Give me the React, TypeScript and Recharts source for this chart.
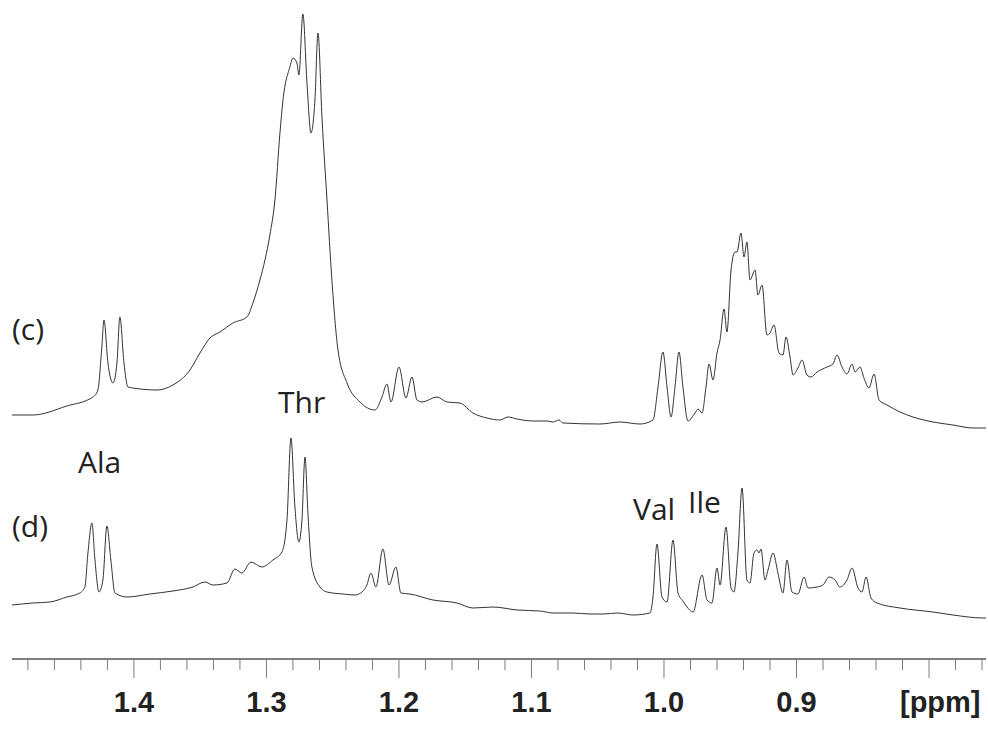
import { LineChart, Line, XAxis, YAxis } from "recharts";

// spectrum (c): chemical shift [ppm] and intensity (a.u.)
const ppmC = [
  1.492, 1.4762, 1.4506, 1.4309, 1.4272, 1.4242, 1.4226, 1.4196, 1.4158, 1.4128,
  1.4106, 1.4075, 1.4045, 1.4008, 1.3826, 1.3706, 1.3577, 1.3502, 1.3426, 1.3351,
  1.3253, 1.3147, 1.3102, 1.3049, 1.3011, 1.2974, 1.2936, 1.2898, 1.2875, 1.2823,
  1.28, 1.277, 1.2755, 1.2725, 1.2694, 1.2664, 1.2634, 1.2611, 1.2581, 1.2543,
  1.2506, 1.246, 1.2392, 1.2294, 1.2181, 1.2128, 1.2091, 1.206, 1.2, 1.1947,
  1.1902, 1.1864, 1.1826, 1.1713, 1.1638, 1.154, 1.1442, 1.1336, 1.1238, 1.1177,
  1.1109, 1.0989, 1.0883, 1.0838, 1.0792, 1.0762, 1.0483, 1.0332, 1.0181, 1.0083,
  1.0045, 1.0008, 0.9977, 0.9947, 0.9917, 0.9887, 0.9857, 0.9819, 0.9766, 0.9743,
  0.9713, 0.9683, 0.966, 0.963, 0.96, 0.9577, 0.9547, 0.9525, 0.9494, 0.9464,
  0.9449, 0.9419, 0.9396, 0.9374, 0.9351, 0.9313, 0.9291, 0.926, 0.9223, 0.92,
  0.917, 0.9132, 0.9102, 0.9079, 0.9049, 0.9026, 0.8989, 0.8958, 0.8921, 0.8891,
  0.8845, 0.877, 0.8725, 0.8694, 0.8657, 0.8619, 0.8581, 0.8558, 0.8521, 0.8491,
  0.8453, 0.8415, 0.8377, 0.8317, 0.8219, 0.8121, 0.797, 0.7819, 0.7668, 0.7592,
  0.757,
];
const intC = [
  244, 244, 253, 262, 269, 312, 339, 296, 276, 296,
  342, 296, 272, 271, 269, 274, 289, 306, 321, 327,
  336, 342, 356, 379, 399, 424, 459, 526, 559, 592,
  601, 596, 584, 645, 576, 526, 559, 626, 542, 459,
  379, 309, 276, 257, 249, 262, 275, 257, 292, 261,
  282, 259, 257, 262, 257, 256, 246, 241, 239, 242,
  240, 238, 238, 237, 239, 236, 235, 237, 235, 239,
  272, 307, 272, 242, 272, 307, 272, 238, 246, 250,
  246, 272, 295, 279, 306, 319, 350, 327, 389, 407,
  407, 426, 402, 417, 379, 389, 364, 374, 324, 326,
  334, 306, 304, 322, 302, 284, 291, 299, 284, 282,
  287, 292, 295, 304, 292, 285, 295, 287, 292, 281,
  271, 285, 259, 254, 247, 242, 237, 234, 231, 231,
  231,
];

// spectrum (d)
const ppmD = [
  1.492, 1.4762, 1.4634, 1.4506, 1.4408, 1.437, 1.4347, 1.4317, 1.4294, 1.4264,
  1.4234, 1.4204, 1.4174, 1.4143, 1.4053, 1.3879, 1.3706, 1.3555, 1.3464, 1.3404,
  1.3298, 1.3238, 1.3185, 1.3117, 1.3034, 1.2951, 1.2883, 1.2845, 1.2815, 1.2785,
  1.2755, 1.2732, 1.2709, 1.2687, 1.2657, 1.2596, 1.2543, 1.2423, 1.2332, 1.2279,
  1.2242, 1.2211, 1.2174, 1.2121, 1.2075, 1.2023, 1.1985, 1.1917, 1.1743, 1.1562,
  1.1442, 1.1291, 1.1109, 1.0936, 1.0838, 1.0687, 1.0558, 1.046, 1.0347, 1.0234,
  1.0106, 1.0083, 1.0053, 1.0015, 0.9977, 0.9932, 0.9894, 0.9857, 0.9826, 0.9781,
  0.9713, 0.9675, 0.9638, 0.96, 0.9577, 0.9532, 0.9494, 0.9472, 0.9442, 0.9411,
  0.9374, 0.9351, 0.9321, 0.9298, 0.9283, 0.9268, 0.9238, 0.9215, 0.9177, 0.914,
  0.9102, 0.9072, 0.9034, 0.8989, 0.8943, 0.8913, 0.8845, 0.88, 0.8755, 0.8709,
  0.8672, 0.8619, 0.8581, 0.8536, 0.8506, 0.8475, 0.8438, 0.8392, 0.8219, 0.797,
  0.7819, 0.7592, 0.757,
];
const intD = [
  54, 56, 57, 62, 66, 72, 106, 136, 99, 67,
  79, 133, 99, 66, 62, 65, 68, 72, 77, 74,
  76, 90, 86, 97, 92, 99, 107, 139, 221, 152,
  117, 139, 202, 146, 92, 72, 67, 65, 64, 67,
  74, 86, 72, 110, 74, 92, 66, 65, 59, 56,
  51, 52, 49, 48, 46, 46, 45, 45, 46, 44,
  46, 62, 115, 62, 57, 119, 66, 58, 52, 47,
  84, 59, 56, 91, 74, 132, 71, 67, 106, 171,
  79, 76, 106, 109, 106, 110, 79, 89, 106, 86,
  66, 99, 67, 65, 82, 71, 72, 74, 82, 79,
  72, 79, 91, 71, 67, 82, 61, 56, 51, 47,
  44, 41, 41,
];

const majorTicks = [1.4, 1.3, 1.2, 1.1, 1.0, 0.9, 0.8];
const majorLabels = ["1.4", "1.3", "1.2", "1.1", "1.0", "0.9", ""];
const minorTicks = [
  1.48, 1.46, 1.44, 1.42, 1.38, 1.36, 1.34, 1.32, 1.28, 1.26, 1.24, 1.22,
  1.18, 1.16, 1.14, 1.12, 1.08, 1.06, 1.04, 1.02, 0.98, 0.96, 0.94, 0.92,
  0.88, 0.86, 0.84, 0.82, 0.78, 0.76,
];

const dataC = ppmC.map((p, i) => ({ ppm: p, v: intC[i] }));
const dataD = ppmD.map((p, i) => ({ ppm: p, v: intD[i] }));

const PpmTick = (props: any) => {
  const { x, y, payload } = props;
  const idx = majorTicks.findIndex((m) => Math.abs(m - payload.value) < 1e-6);
  const major = idx >= 0;
  return (
    <g>
      <line x1={x} y1={y} x2={x} y2={y + (major ? 19 : 11)} stroke="#7a7a7a" strokeWidth={1} />
      {major && majorLabels[idx] && (
        <text
          x={x}
          y={y + 53}
          textAnchor="middle"
          fontFamily="'Liberation Sans', Arial, sans-serif"
          fontWeight="bold"
          fontSize={29}
          fill="#222"
        >
          {majorLabels[idx]}
        </text>
      )}
    </g>
  );
};

const annStyle = {
  fontFamily: "'Open Sans', 'Noto Sans', sans-serif",
  fontSize: 30,
  fill: "#222",
};

export default function App() {
  return (
    <div style={{ position: "absolute", left: 0, top: 0, width: 988, height: 729, background: "#fff" }}>
      <LineChart width={988} height={729} margin={{ top: 0, right: 2, left: 12, bottom: 0 }}>
        <XAxis
          dataKey="ppm"
          type="number"
          domain={[0.757, 1.492]}
          reversed
          allowDataOverflow
          ticks={[...majorTicks, ...minorTicks]}
          interval={0}
          height={70}
          tickSize={0}
          tickMargin={0}
          tickLine={false}
          axisLine={{ stroke: "#555", strokeWidth: 1.5 }}
          tick={<PpmTick />}
        />
        <YAxis hide type="number" domain={[0, 659]} />
        <Line
          data={dataC}
          dataKey="v"
          type="monotone"
          stroke="#333"
          strokeWidth={1}
          dot={false}
          isAnimationActive={false}
        />
        <Line
          data={dataD}
          dataKey="v"
          type="monotone"
          stroke="#333"
          strokeWidth={1}
          dot={false}
          isAnimationActive={false}
        />
      </LineChart>
      <svg width={988} height={729} style={{ position: "absolute", left: 0, top: 0, pointerEvents: "none" }}>
        <text x={12} y={340} {...annStyle}>(c)</text>
        <text x={12} y={537} {...annStyle}>(d)</text>
        <text x={278} y={413} {...annStyle}>Thr</text>
        <text x={78} y={473} {...annStyle}>Ala</text>
        <text x={633} y={520} {...annStyle}>Val</text>
        <text x={688} y={513} {...annStyle}>Ile</text>
        <text
          x={900}
          y={712}
          fontFamily="'Liberation Sans', Arial, sans-serif"
          fontWeight="bold"
          fontSize={29}
          fill="#222"
        >
          [ppm]
        </text>
      </svg>
    </div>
  );
}
